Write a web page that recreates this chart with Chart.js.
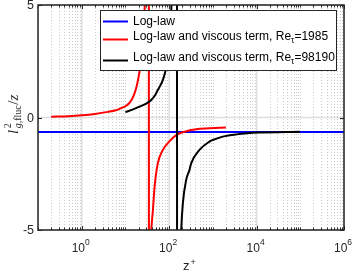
<!DOCTYPE html>
<html>
<head>
<meta charset="utf-8">
<script src="https://cdn.jsdelivr.net/npm/chart.js@4.4.0/dist/chart.umd.min.js"></script>
<style>
  html, body { margin: 0; padding: 0; background: #fff; }
  canvas { display: block; }
</style>
</head>
<body>
<canvas id="chart" width="354" height="275"></canvas>
<script>
// Values (z+ , l^2_g,fluc / z)
const logLawZ = [0.1, 1e6];
const logLawY = [-0.64, -0.64];

const re1985Z = [0.2, 0.5, 1, 2, 4, 6, 8, 10, 12, 14, 16, 18, 20, 22, 24, 26, 28, 30, 32, 34,
                 34.8, 36, 38.5, 42.6, 46.5, 55, 72, 100, 145, 225, 415, 835, 1985];
const re1985Y = [0.03, 0.06, 0.1, 0.16, 0.25, 0.32, 0.42, 0.5, 0.62, 0.8, 1.05, 1.38, 1.8, 2.3, 2.9, 3.8, 5.3, 7.5, 12, 30,
                 -30, -9, -5.2, -4.1, -3.07, -2.04, -1.44, -1.07, -0.78, -0.63, -0.52, -0.48, -0.44];

const re98190Z = [10, 15, 21, 30, 39, 48, 55, 64, 72, 83, 95, 105, 113, 125, 140, 150,
                  153, 160, 170, 180, 189, 206, 245, 292, 319, 494, 835, 993, 1680, 3500, 11500, 98190];
const re98190Y = [0.24, 0.36, 0.48, 0.62, 0.78, 1.0, 1.22, 1.45, 1.67, 2.1, 2.8, 3.7, 5.0, 7.5, 15, 40,
                  -40, -15, -9, -6.3, -5.0, -3.81, -2.78, -2.33, -2.04, -1.44, -1.07, -1.0, -0.85, -0.75, -0.67, -0.63];

const seriesLabels = ['Log-law', 'Log-law and viscous term, Re_τ=1985', 'Log-law and viscous term, Re_τ=98190'];
const seriesColors = ['#0000ff', '#ff0000', '#000000'];

// Axis ticks
const xMin = 0.1, xMax = 1e6;
const xMajorTicks = [1, 100, 1e4, 1e6];
const xTickExponents = ['0', '2', '4', '6'];
const yTicks = [-5, 0, 5];

const SANS = '"Liberation Sans", Arial, Helvetica, sans-serif';
const SERIF = '"Liberation Serif", "Times New Roman", serif';

function toPoints(xs, ys) { return xs.map((v, i) => ({x: v, y: ys[i]})); }

// 1..9 x 10^n positions for the log grid
function logPositions(min, max) {
  const out = [];
  for (let e = Math.round(Math.log10(min)); e < Math.round(Math.log10(max)); e++) {
    for (let m = 1; m < 10; m++) out.push(m * Math.pow(10, e));
  }
  return out;
}

function line(ctx, x1, y1, x2, y2) {
  ctx.beginPath(); ctx.moveTo(x1, y1); ctx.lineTo(x2, y2); ctx.stroke();
}

const gridPlugin = {
  id: 'matlabGrid',
  beforeDatasetsDraw(chart) {
    const {ctx, chartArea: a, scales: {x, y}} = chart;
    ctx.save();
    ctx.lineWidth = 1;
    ctx.strokeStyle = '#cbcbcb';
    ctx.setLineDash([1, 2]);
    logPositions(xMin, xMax).forEach(v => {
      if (xMajorTicks.includes(v)) return;
      const px = Math.round(x.getPixelForValue(v)) + 0.5;
      line(ctx, px, a.top, px, a.bottom);
    });
    ctx.setLineDash([]);
    ctx.strokeStyle = '#dedede';
    ctx.lineWidth = 1.5;
    xMajorTicks.forEach(v => {
      const px = x.getPixelForValue(v);
      line(ctx, px, a.top, px, a.bottom);
    });
    yTicks.forEach(v => {
      const py = y.getPixelForValue(v);
      line(ctx, a.left, py, a.right, py);
    });
    ctx.restore();
  }
};

const axesPlugin = {
  id: 'matlabAxes',
  afterDatasetsDraw(chart) {
    const {ctx, chartArea: a, scales: {x, y}} = chart;
    ctx.save();
    // tick marks
    ctx.strokeStyle = '#262626';
    ctx.lineWidth = 1;
    logPositions(xMin, xMax).concat([xMax]).forEach(v => {
      const px = Math.round(x.getPixelForValue(v)) + 0.5;
      const len = xMajorTicks.includes(v) ? 4 : 2.5;
      line(ctx, px, a.bottom, px, a.bottom - len);
      line(ctx, px, a.top, px, a.top + len);
    });
    yTicks.forEach(v => {
      const py = Math.round(y.getPixelForValue(v)) + 0.5;
      line(ctx, a.left, py, a.left + 4, py);
      line(ctx, a.right, py, a.right - 4, py);
    });
    // frame
    ctx.lineWidth = 1.5;
    ctx.strokeRect(a.left, a.top, a.right - a.left, a.bottom - a.top);

    // y tick labels
    ctx.fillStyle = '#262626';
    ctx.font = '12.5px ' + SANS;
    ctx.textAlign = 'right';
    ctx.textBaseline = 'middle';
    yTicks.forEach(v => ctx.fillText(String(v), a.left - 4, y.getPixelForValue(v) + 1));

    // x tick labels 10^n
    ctx.textBaseline = 'alphabetic';
    ctx.textAlign = 'left';
    xMajorTicks.forEach((v, i) => {
      ctx.font = '12px ' + SANS;
      const wb = ctx.measureText('10').width;
      ctx.font = '8.5px ' + SANS;
      const we = ctx.measureText(xTickExponents[i]).width;
      const x0 = x.getPixelForValue(v) - (wb + we) / 2 - 1;
      ctx.font = '12px ' + SANS;
      ctx.fillText('10', x0, 252);
      ctx.font = '8.5px ' + SANS;
      ctx.fillText(xTickExponents[i], x0 + wb, 245);
    });

    // x title z^+
    ctx.font = '13px ' + SANS;
    ctx.fillText('z', 183, 270);
    ctx.font = '9px ' + SANS;
    ctx.fillText('+', 190.5, 265);

    // y title  l^2_{g,fluc}/z  (rotated)
    ctx.translate(18, 134);
    ctx.rotate(-Math.PI / 2);
    let cx = 0;
    ctx.font = 'italic 15px ' + SERIF;
    ctx.fillText('l', cx, 0);
    cx += ctx.measureText('l').width + 1.5;
    ctx.font = '10px ' + SERIF;
    ctx.fillText('2', cx, -7.5);
    ctx.font = 'italic 10px ' + SERIF;
    ctx.fillText('g', cx, 3);
    const sx = cx + ctx.measureText('g').width;
    ctx.font = '10px ' + SERIF;
    ctx.fillText(',fluc', sx, 3);
    cx = sx + ctx.measureText(',fluc').width + 0.5;
    ctx.font = '15px ' + SERIF;
    ctx.fillText('/', cx, 0);
    cx += ctx.measureText('/').width;
    ctx.font = 'italic 15px ' + SERIF;
    ctx.fillText('z', cx, 0);
    ctx.restore();
  },
  afterDraw(chart) {
    // legend box
    const ctx = chart.ctx;
    const box = {x: 100.5, y: 10.5, w: 236, h: 60};
    const rows = [{line: 21.5, text: 22}, {line: 39.5, text: 37}, {line: 60.5, text: 58}];
    ctx.save();
    ctx.fillStyle = '#fff';
    ctx.fillRect(box.x, box.y, box.w, box.h);
    ctx.strokeStyle = '#262626';
    ctx.lineWidth = 1;
    ctx.strokeRect(box.x, box.y, box.w, box.h);
    chart.data.datasets.forEach((ds, i) => {
      const r = rows[i];
      ctx.strokeStyle = ds.borderColor;
      ctx.lineWidth = 2;
      line(ctx, 103, r.line, 128, r.line);
      ctx.fillStyle = '#000';
      ctx.textBaseline = 'middle';
      ctx.textAlign = 'left';
      const parts = ds.label.split('_');
      let tx = 133;
      ctx.font = '12px ' + SANS;
      ctx.fillText(parts[0], tx, r.text);
      tx += ctx.measureText(parts[0]).width;
      if (parts.length > 1) {
        const sub = parts[1].charAt(0), rest = parts[1].slice(1);
        ctx.font = '8.5px ' + SANS;
        ctx.fillText(sub, tx, r.text + 4);
        tx += ctx.measureText(sub).width;
        ctx.font = '12px ' + SANS;
        ctx.fillText(rest, tx, r.text);
      }
    });
    ctx.restore();
  }
};

const ctx = document.getElementById('chart').getContext('2d');
const chart = new Chart(ctx, {
  type: 'scatter',
  data: {
    datasets: [
      {label: seriesLabels[0], data: toPoints(logLawZ, logLawY), borderColor: seriesColors[0], order: 3},
      {label: seriesLabels[1], data: toPoints(re1985Z, re1985Y), borderColor: seriesColors[1], order: 2},
      {label: seriesLabels[2], data: toPoints(re98190Z, re98190Y), borderColor: seriesColors[2], order: 1}
    ].map(ds => Object.assign(ds, {
      showLine: true,
      borderWidth: 2,
      pointRadius: 0,
      cubicInterpolationMode: 'monotone',
      clip: 0
    }))
  },
  options: {
    responsive: false,
    animation: false,
    layout: {padding: {left: 38, top: 5, right: 10, bottom: 45}},
    plugins: {legend: {display: false}, tooltip: {enabled: false}},
    scales: {
      x: {type: 'logarithmic', min: xMin, max: xMax, display: false},
      y: {type: 'linear', min: -5, max: 5, display: false}
    }
  },
  plugins: [gridPlugin, axesPlugin]
});
</script>
</body>
</html>
